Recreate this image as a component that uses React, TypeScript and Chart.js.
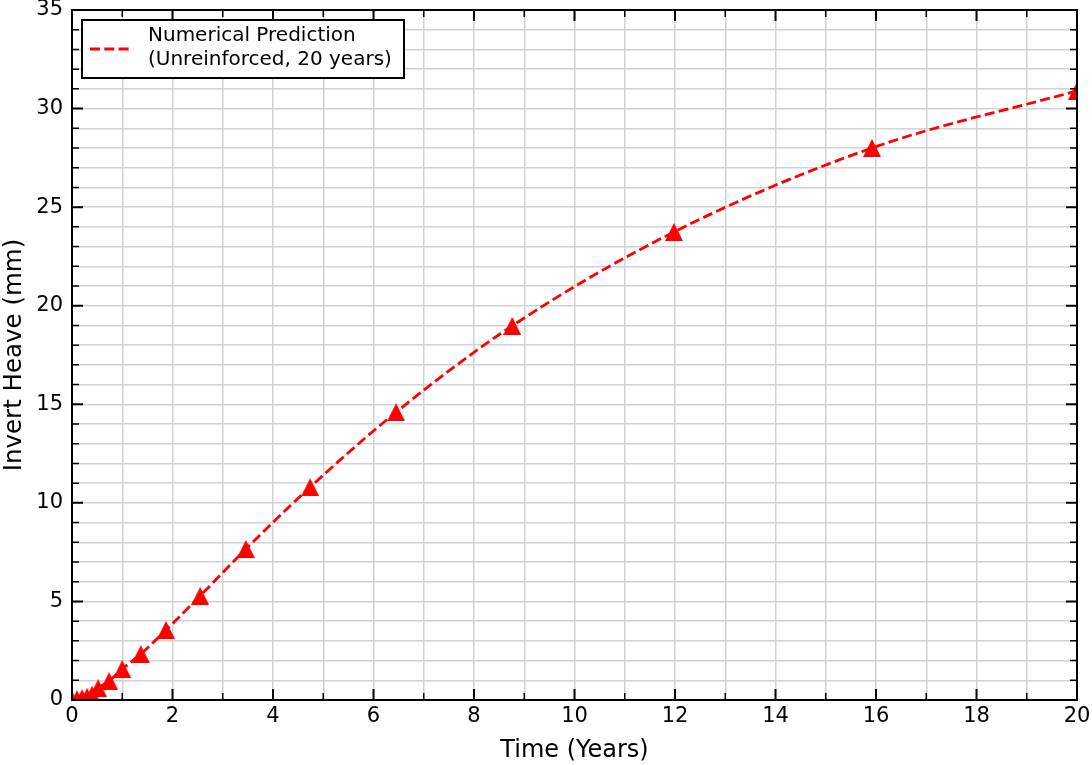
import { useEffect, useRef } from 'react';
import { Chart, registerables } from 'chart.js';

Chart.register(...registerables);

const timeYears = [0, 0.1, 0.2, 0.3, 0.4, 0.52, 0.74, 1.0, 1.37, 1.87, 2.55, 3.46, 4.74, 6.45, 8.76, 11.98, 15.92, 20];
const heaveMm = [0, 0.04, 0.09, 0.16, 0.27, 0.6, 0.96, 1.57, 2.33, 3.55, 5.28, 7.66, 10.8, 14.6, 18.98, 23.74, 28.0, 30.9];
const xMajorTicks = [0, 2, 4, 6, 8, 10, 12, 14, 16, 18, 20];
const yMajorTicks = [0, 5, 10, 15, 20, 25, 30, 35];
const seriesLabel = ['Numerical Prediction', '(Unreinforced, 20 years)'];
const xTitle = 'Time (Years)';
const yTitle = 'Invert Heave (mm)';

const FONT = '"DejaVu Sans", sans-serif';

function makeTriangle(size: number, color: string) {
  const c = document.createElement('canvas');
  c.width = size;
  c.height = size;
  const g = c.getContext('2d')!;
  g.fillStyle = color;
  g.beginPath();
  g.moveTo(size / 2, 0);
  g.lineTo(size, size);
  g.lineTo(0, size);
  g.closePath();
  g.fill();
  return c;
}

const framePlugin = {
  id: 'frame',
  afterDraw(chart: any) {
    const { ctx, chartArea: a, scales } = chart;
    const xs = scales.x;
    const ys = scales.y;
    ctx.save();
    ctx.strokeStyle = '#000';
    for (let v = xs.min; v <= xs.max; v += 1) {
      const px = xs.getPixelForValue(v);
      const major = xMajorTicks.includes(v);
      const len = major ? 11 : 7;
      ctx.lineWidth = major ? 2 : 1.5;
      ctx.beginPath();
      ctx.moveTo(px, a.bottom);
      ctx.lineTo(px, a.bottom - len);
      ctx.moveTo(px, a.top);
      ctx.lineTo(px, a.top + len);
      ctx.stroke();
    }
    for (let v = ys.min; v <= ys.max; v += 1) {
      const py = ys.getPixelForValue(v);
      const major = yMajorTicks.includes(v);
      const len = major ? 11 : 7;
      ctx.lineWidth = major ? 2 : 1.5;
      ctx.beginPath();
      ctx.moveTo(a.left, py);
      ctx.lineTo(a.left + len, py);
      ctx.moveTo(a.right, py);
      ctx.lineTo(a.right - len, py);
      ctx.stroke();
    }
    ctx.lineWidth = 2;
    ctx.strokeRect(a.left, a.top, a.right - a.left, a.bottom - a.top);

    // legend
    const lx = a.left + 10;
    const ly = a.top + 10;
    const lw = 322;
    const lh = 58;
    ctx.fillStyle = '#fff';
    ctx.fillRect(lx, ly, lw, lh);
    ctx.lineWidth = 2;
    ctx.strokeStyle = '#000';
    ctx.strokeRect(lx, ly, lw, lh);
    ctx.strokeStyle = '#ff0000';
    ctx.lineWidth = 2.8;
    ctx.setLineDash([10, 4.3]);
    ctx.beginPath();
    ctx.moveTo(lx + 8, ly + 29);
    ctx.lineTo(lx + 49, ly + 29);
    ctx.stroke();
    ctx.setLineDash([]);
    ctx.fillStyle = '#000';
    ctx.font = `20px ${FONT}`;
    ctx.textBaseline = 'middle';
    ctx.textAlign = 'left';
    ctx.fillText(seriesLabel[0], lx + 66, ly + 16);
    ctx.fillText(seriesLabel[1], lx + 66, ly + 40);
    ctx.restore();
  },
};

export default function App() {
  const ref = useRef<HTMLCanvasElement | null>(null);
  useEffect(() => {
    const canvas = ref.current;
    if (!canvas) return;
    const tri = makeTriangle(18, '#ff0000');
    const chart = new Chart(canvas, {
      type: 'line',
      data: {
        datasets: [
          {
            label: seriesLabel.join(' '),
            data: timeYears.map((t, i) => ({ x: t, y: heaveMm[i] })),
            borderColor: '#ff0000',
            backgroundColor: '#ff0000',
            borderWidth: 2.8,
            borderDash: [10, 4.3],
            pointStyle: tri,
            pointRadius: 9,
            pointHoverRadius: 9,
            pointBorderWidth: 0,
            pointBackgroundColor: '#ff0000',
            cubicInterpolationMode: 'monotone',
            fill: false,
            clip: 0,
          } as any,
        ],
      },
      options: {
        responsive: false,
        animation: false,
        events: [],
        layout: { padding: { top: 10, right: 15, left: 0, bottom: 0 } },
        plugins: {
          legend: { display: false },
          tooltip: { enabled: false },
        },
        scales: {
          x: {
            type: 'linear',
            min: 0,
            max: 20,
            afterFit: (s: any) => {
              s.height = 65;
              s.paddingLeft = 0;
              s.paddingRight = 0;
            },
            ticks: {
              stepSize: 1,
              autoSkip: false,
              maxRotation: 0,
              padding: 4,
              color: '#000',
              font: { family: FONT, size: 21 },
              callback: (v: any) => (xMajorTicks.includes(Number(v)) ? String(v) : ''),
            },
            grid: { color: 'rgb(210,210,210)', lineWidth: 1.5, drawTicks: false },
            border: { display: false },
            title: {
              display: true,
              text: xTitle,
              color: '#000',
              font: { family: FONT, size: 24 },
              padding: { top: 0, bottom: 0 },
            },
          },
          y: {
            type: 'linear',
            min: 0,
            max: 35,
            afterFit: (s: any) => {
              s.width = 72;
              s.paddingTop = 0;
              s.paddingBottom = 0;
            },
            ticks: {
              stepSize: 1,
              autoSkip: false,
              padding: 9,
              color: '#000',
              font: { family: FONT, size: 21 },
              callback: (v: any) => (yMajorTicks.includes(Number(v)) ? String(v) : ''),
            },
            grid: { color: 'rgb(210,210,210)', lineWidth: 1.5, drawTicks: false },
            border: { display: false },
            title: {
              display: true,
              text: yTitle,
              color: '#000',
              font: { family: FONT, size: 24.5 },
              padding: { top: 0, bottom: 0 },
            },
          },
        },
      },
      plugins: [framePlugin],
    });
    return () => chart.destroy();
  }, []);
  return (
    <div style={{ position: 'fixed', left: 0, top: 0, width: 1092, height: 765, background: '#fff' }}>
      <canvas ref={ref} width={1092} height={765} style={{ display: 'block' }} />
    </div>
  );
}
